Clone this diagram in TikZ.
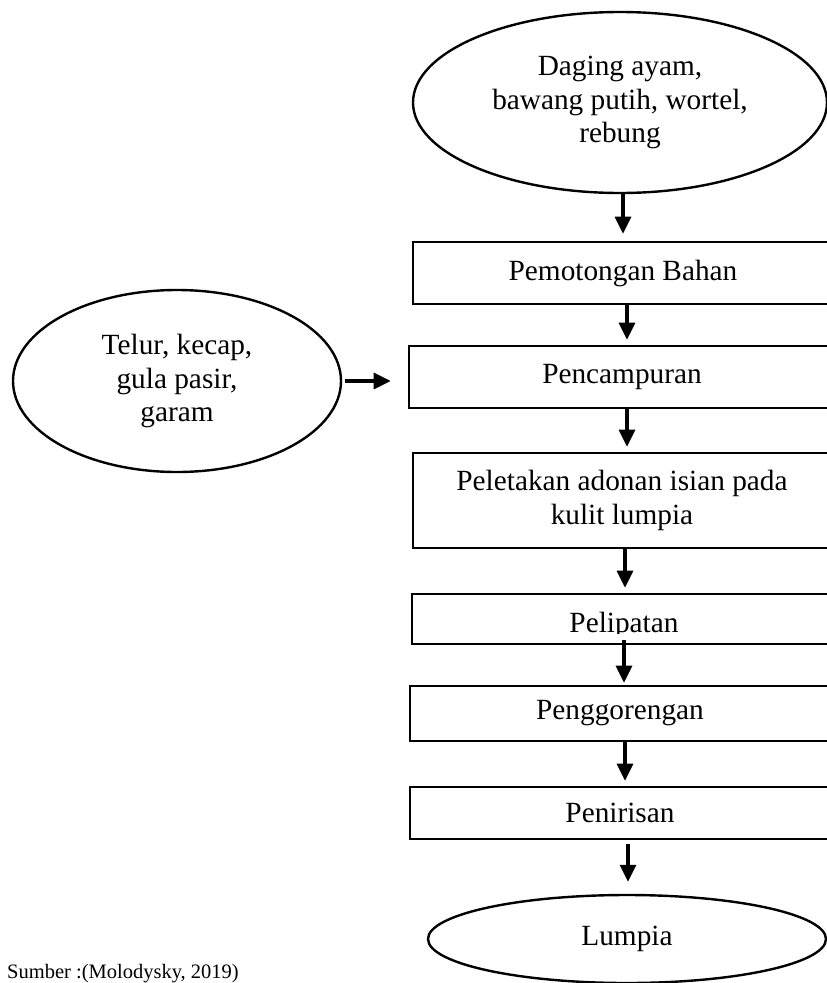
\documentclass[tikz,border=0pt]{standalone}
\usepackage{fontspec}
\setmainfont{Liberation Serif}
\usetikzlibrary{shapes.geometric,arrows.meta}
\tikzset{
  boxtext/.style={font=\fontsize{29.3}{33.5}\selectfont, align=center},
  procbox/.style={draw, line width=2.6pt, rectangle, inner sep=0pt, boxtext},
  ovalbox/.style={draw, line width=2.4pt, ellipse, inner sep=0pt, boxtext},
  arr/.style={line width=3.2pt, -{Triangle[length=17pt,width=16pt]}},
}
\begin{document}
\begin{tikzpicture}[x=1pt,y=-1pt]
\useasboundingbox (0,0) rectangle (827,983);
% ellipses
\node[ovalbox, minimum width=414pt, minimum height=181pt] (e1) at (620,102.5) {Daging ayam,\\bawang putih, wortel,\\rebung};
\node[ovalbox, minimum width=328pt, minimum height=182pt] (e2) at (177,381) {Telur, kecap,\\gula pasir,\\garam};
\node[ovalbox, minimum width=398pt, minimum height=88pt] (e3) at (627,939) {Lumpia};
% boxes
\node[procbox, minimum width=420pt, minimum height=62pt] (r1) at (623,273) {Pemotongan Bahan};
\node[procbox, minimum width=426pt, minimum height=62pt] (r2) at (622,377) {Pencampuran};
\node[procbox, minimum width=418pt, minimum height=95pt] (r3) at (622,500.5) {Peletakan adonan isian pada\\kulit lumpia};
\node[procbox, minimum width=424pt, minimum height=50pt] (r4) at (624,619) {};
\begin{scope}
\clip (405,596) rectangle (840,633.5);
\node[boxtext, anchor=base, inner sep=0pt] (t4) at (624,632) {Pelipatan};
\end{scope}
\node[procbox, minimum width=420pt, minimum height=55pt] (r5) at (620,713.5) {Penggorengan};
\node[procbox, minimum width=420pt, minimum height=52pt] (r6) at (620,813) {Penirisan};
% arrows
\draw[arr, shorten >=7pt] ([xshift=3pt]e1.south) -- (r1.north);
\draw[arr, shorten >=5pt] ([xshift=4pt]r1.south) -- ([xshift=4pt]r1.south |- r2.north);
\draw[arr, shorten >=5pt] ([xshift=5pt]r2.south) -- ([xshift=5pt]r2.south |- r3.north);
\draw[arr, shorten >=5pt] ([xshift=3pt]r3.south) -- ([xshift=3pt]r3.south |- r4.north);
\draw[arr, shorten <=-5pt, shorten >=2pt] (r4.south) -- (r4.south |- r5.north);
\draw[arr, shorten >=5pt] ([xshift=5pt]r5.south) -- ([xshift=5pt]r5.south |- r6.north);
\draw[arr, shorten <=4pt, shorten >=12pt] ([xshift=8pt]r6.south) -- ([xshift=8pt]r6.south |- e3.north);
\draw[arr, shorten <=3pt, shorten >=17pt] (e2.east) -- (e2.east -| r2.west);
% source
\node[font=\fontsize{20.5}{24}\selectfont, anchor=base west, inner sep=0pt] (src) at (7,978) {Sumber :(Molodysky, 2019)};
\end{tikzpicture}
\end{document}
